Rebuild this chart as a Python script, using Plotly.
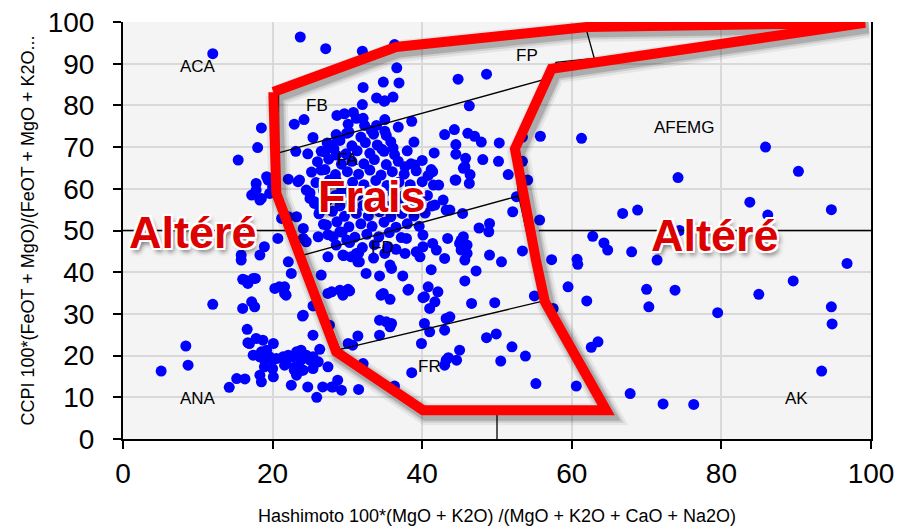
import plotly.graph_objects as go
import numpy as np

# ---------------- data (Hashimoto index, CCPI) ----------------
samples_outer = [
    (12.0,92.4),(15.4,66.9),(18.0,69.9),(18.5,74.6),
    (17.2,58.5),(17.8,61.3),(18.3,57.3),(19.2,62.9),(20.0,60.5),(19.6,58.9),(18.5,57.7),(17.8,59.7),(19.4,62.1),
    (20.7,48.1),(18.9,46.1),(18.3,44.1),(15.8,44.1),(15.8,42.9),(21.2,52.9),
    (22.1,62.3),(23.6,62.1),(23.4,61.7),(24.5,59.7),(25.0,57.7),(23.2,53.3),(22.1,53.3),(24.1,50.5),(24.5,47.3),(24.1,48.1),
    (22.1,42.5),(22.5,39.7),(26.5,39.3),(16.3,38.1),(17.4,38.5),(16.0,38.3),(16.7,37.3),(17.7,38.5),
    (20.9,36.5),(21.6,34.9),(20.3,36.1),(12.0,32.3),(17.2,32.9),(17.6,31.7),(16.0,31.3),
    (27.4,34.9),(27.9,35.3),(29.0,35.7),(30.1,35.9),
    (5.1,16.3),(8.4,22.3),(8.7,17.7),(14.2,12.4),(15.2,14.5),(16.3,14.4),
    (16.6,26.3),(16.7,23.1),(17.4,20.1),(17.8,24.1),(18.7,23.7),(18.3,19.7),(19.2,21.3),(18.9,18.9),(19.6,19.7),
    (18.3,15.3),(18.5,13.7),(18.9,17.3),(20.0,18.9),(20.1,22.9),(20.0,16.9),(20.1,14.9),(18.5,20.9),(20.5,19.3),
    (21.4,19.7),(16.9,22.9),(21.6,36.5),(21.8,34.5),
    (21.8,18.1),(22.5,12.9),(22.7,19.7),(23.0,17.3),(23.2,15.3),(23.4,20.1),(23.8,21.3),(23.8,18.9),(24.1,16.5),
    (24.1,29.7),(24.7,12.5),(25.4,24.9),(25.4,19.7),(25.4,16.9),(25.9,10.0),(26.1,18.5),(26.3,21.5),(26.7,12.5),
    (27.4,17.3),(27.9,12.5),(28.7,14.1),(29.2,11.7),(30.1,22.9),(30.7,22.5),(31.4,24.7),(31.5,11.9),(32.1,18.1),
    (29.4,34.5),(30.3,35.5),(32.5,39.7),(31.4,42.5),(24.0,29.5),(25.4,31.9),(27.6,27.3),
    (22.9,16.5),(23.9,16.5),(24.5,20.1),(25.0,18.9),(25.6,18.1),(22.1,20.1),(23.2,20.9),(21.6,17.7),(28.1,12.5),
    (34.3,39.1),(34.5,34.5),(35.7,33.5),(34.3,28.5),(35.2,28.1),(35.9,27.7),(34.3,24.9),(35.7,26.9),(35.9,40.9),
    (37.4,39.1),(38.1,35.7),(36.3,12.7),(38.6,15.9),(39.9,22.9),(40.3,27.7),(41.0,25.7),(40.3,34.1),(41.0,31.3),
    (41.7,32.9),(42.1,35.3),(40.8,36.5),(41.2,40.6),(43.2,28.9),(43.0,26.1),(43.2,18.9),
    (45.0,21.3),(43.5,19.5),(43.0,17.7),(44.6,18.9),(48.6,24.3),(49.9,25.2),(52.0,22.1),(53.8,19.9),(50.5,18.7),
    (55.2,13.3),(46.6,32.5),(49.7,32.7),
    (45.7,42.9),(50.6,42.5),(57.3,43.0),(60.8,41.9),(71.4,42.9),(96.8,42.1),
    (45.7,37.9),(47.2,40.3),(55.0,34.3),(59.5,36.5),(62.0,33.1),(70.0,35.9),(70.3,31.7),(73.8,35.7),(79.5,30.3),
    (85.0,34.7),(89.6,37.9),(94.7,31.7),(94.8,27.6),(93.4,16.3),(43.7,29.3),
    (60.6,12.7),(62.6,22.0),(63.5,23.3),(67.8,10.9),(72.2,8.4),(76.3,8.3),(57.5,31.3),
]

samples_upper = [
    (44.8,86.3),(48.6,87.5),(46.3,79.9),(44.3,74.2),(46.1,73.3),(47.0,72.6),(47.9,71.2),(50.3,71.0),(53.4,72.4),
    (55.8,72.6),(61.3,72.1),(44.5,70.6),(44.5,68.3),(45.8,67.3),(48.1,67.0),(50.2,66.6),(45.5,64.9),(46.4,63.4),
    (46.3,61.3),(44.4,62.1),(51.5,63.4),(53.4,66.6),(54.1,62.1),(74.2,62.7),(85.9,70.0),(90.3,64.2),(52.6,58.1),
    (52.1,54.5),(55.7,52.5),(83.8,56.8),(86.2,53.7),(94.7,55.0),(66.8,54.1),(68.8,54.9),(62.8,48.6),(64.3,47.0),
    (64.8,45.3),(68.0,44.9),(74.4,50.0),
    (47.6,50.6),(49.0,51.7),(48.9,49.7),(45.4,54.1),(43.7,54.9),(53.4,45.1),(49.0,44.1),(45.2,47.7),(60.7,43.1),
    (36.3,94.6),(36.6,89.0),(34.8,85.6),(36.9,85.4),(36.1,82.0),(34.9,81.0),(35.0,76.6),(36.8,74.8),(38.6,76.2),
    (35.2,72.8),(36.1,69.8),(38.9,71.2),(34.9,69.0),(43.0,73.0),(41.6,68.6),(39.0,65.7),(41.2,64.6),(45.7,65.3),
    (37.7,65.3),
    (23.7,96.4),(27.1,93.6),(32.0,93.0),(32.1,84.3),(33.9,81.8),(32.0,80.2),(22.9,75.5),(24.2,76.6),(25.4,72.3),
    (23.1,69.0),(24.7,68.4),(28.6,77.6),(29.6,78.0),(30.8,78.3),(30.1,75.5),(31.2,76.9),(32.1,76.9),(32.3,75.2),
    (33.2,74.0),(33.9,75.2),(29.9,73.3),(28.7,71.7),(27.9,70.5),(27.0,68.8),(28.5,68.1),
    (35.0,81.1),(41.4,64.1),(42.2,60.9),(42.8,57.3),(43.2,54.9),(44.5,62.1),(41.7,56.1),
    (43.4,48.1),(45.5,48.5),(45.0,46.9),(46.0,46.5),(45.2,45.3),(46.0,44.5),(35.7,41.7),(38.2,35.9),(40.1,33.9),
    (37.9,48.1),(40.1,48.9),(41.4,46.9),(39.2,44.9),(37.7,44.5),(39.7,43.7),(43.0,43.3),(41.9,45.3),(40.1,46.1),
    (35.0,44.5),(36.5,45.5),(34.8,34.9),
    (25.6,56.9),(26.3,54.5),(27.2,51.3),(28.1,48.5),(26.1,48.5),(29.0,49.7),(29.9,47.7),(31.2,44.5),(31.6,42.5),
    (30.5,43.7),(29.4,44.1),(27.4,43.7),(26.5,64.5),(28.5,62.1),(29.2,59.3),
]

samples_core = [
    (28.5,73.0),(30.2,73.6),(31.8,72.4),(33.5,73.1),(35.0,73.8),
    (27.3,71.0),(29.0,71.6),(30.6,70.3),(32.4,71.1),(34.0,70.5),(35.8,71.3),
    (26.5,69.0),(28.2,69.6),(29.8,68.4),(31.3,69.1),(33.0,68.5),(34.6,69.5),(36.3,68.2),(38.0,69.1),
    (26.0,66.5),(27.5,67.1),(29.2,65.9),(30.6,66.6),(32.2,66.0),(33.6,67.0),(35.2,65.8),(36.8,66.6),(38.5,66.0),(40.0,66.8),
    (25.2,64.0),(27.0,64.6),(28.4,63.4),(30.0,64.1),(31.5,63.5),(33.0,64.5),(34.5,63.3),(36.0,64.1),(37.6,63.5),(39.2,64.3),(40.8,63.2),
    (25.8,61.5),(27.6,62.1),(29.1,60.9),(30.7,61.6),(32.2,61.0),(33.8,62.0),(35.3,60.8),(36.9,61.6),(38.4,61.0),(40.0,61.7),(41.5,60.9),
    (25.0,59.0),(26.8,59.6),(28.4,58.4),(29.9,59.1),(31.4,58.5),(33.0,59.5),(34.6,58.3),(36.1,59.1),(37.6,58.5),(39.2,59.2),(40.7,58.4),
    (25.6,56.5),(27.3,57.1),(29.0,55.9),(30.5,56.6),(32.1,56.0),(33.7,57.0),(35.2,55.8),(36.8,56.6),(38.3,56.0),(39.8,56.7),(41.3,55.9),
    (26.2,54.0),(28.0,54.6),(29.6,53.4),(31.2,54.1),(32.8,53.5),(34.3,54.5),(35.8,53.3),(37.3,54.1),(38.9,53.5),(40.4,54.2),
    (26.8,51.5),(28.6,52.1),(30.2,50.9),(31.8,51.6),(33.3,51.0),(34.9,52.0),(36.5,50.8),(38.0,51.6),(39.6,51.0),
    (27.4,49.0),(29.3,49.6),(31.0,48.4),(32.6,49.1),(34.2,48.5),(35.6,49.5),(37.2,48.3),
    (28.5,46.5),(30.3,47.1),(32.0,45.9),(33.6,46.6),(35.4,46.0),
    (29.5,44.0),(31.5,44.6),(33.5,43.4),
]

# alteration box-plot field boundaries
box_outline = [(20.8,83.0),(20.8,56.0),(29.0,21.5),(40.0,7.0),(64.0,7.0),(56.0,33.0),(52.9,58.3),
               (52.2,70.0),(56.5,86.3),(57.9,90.3),(63.0,91.3),(62.0,97.8)]
line_fb_fa = [(20.8,68.6),(56.5,86.3)]
line_fa_fd = [(23.7,43.9),(52.9,58.3)]
line_fd_fr = [(29.0,21.5),(56.0,33.0)]
line_50_left = [(0.0,50.0),(22.2,50.0)]
line_50_right = [(55.6,50.0),(100.0,50.0)]
line_x50 = [(50.0,0.0),(50.0,7.0)]

# "least altered" outline drawn by hand
fresh_outline = [(20.1,83.2),(36.5,94.0),(62.0,98.8),(99.2,99.8),(57.3,88.8),(52.4,69.6),(55.2,43.0),
                 (56.4,32.9),(64.6,6.9),(40.1,6.9),(28.5,20.9),(20.5,58.9),(20.1,83.2)]

field_labels = ["ACA","ANA","AK","AFEMG","FB","FA","FD","FR","FP"]
field_x = [10.0,10.0,90.0,75.0,26.0,30.0,34.7,41.0,54.0]
field_y = [89.4,9.6,9.8,74.8,80.0,67.0,46.0,17.5,92.0]

big_labels = ["Altéré","Frais","Altéré"]
big_x = [9.3,33.3,79.2]
big_y = [49.6,58.2,48.9]

x_ticks = [0,20,40,60,80,100]
y_ticks = [0,10,20,30,40,50,60,70,80,90,100]

# ---------------- figure ----------------
FONT = "Liberation Sans, Arial, Helvetica, sans-serif"
fig = go.Figure()

pts = samples_outer + samples_upper + samples_core
fig.add_trace(go.Scatter(x=[p[0] for p in pts], y=[p[1] for p in pts], mode="markers",
                         marker=dict(size=11, color="#0000ff", line=dict(width=0)),
                         hoverinfo="x+y"))

for seg in [box_outline, line_fb_fa, line_fa_fd, line_fd_fr, line_50_left, line_50_right, line_x50]:
    fig.add_trace(go.Scatter(x=[p[0] for p in seg], y=[p[1] for p in seg], mode="lines",
                             line=dict(color="black", width=1.3), hoverinfo="skip"))

fx = np.array([p[0] for p in fresh_outline])
fy = np.array([p[1] for p in fresh_outline])
# soft drop shadow below the red outline
for w, a in [(22, 0.06), (17, 0.10), (13, 0.16)]:
    fig.add_trace(go.Scatter(x=fx + 0.45, y=fy - 0.95, mode="lines", cliponaxis=False,
                             line=dict(color=f"rgba(0,0,0,{a})", width=w), hoverinfo="skip"))
fig.add_trace(go.Scatter(x=fx, y=fy, mode="lines", cliponaxis=False,
                         line=dict(color="#ff0000", width=10), hoverinfo="skip"))

for t, x, y in zip(field_labels, field_x, field_y):
    fig.add_annotation(x=x, y=y, text=t, showarrow=False,
                       font=dict(family=FONT, size=17, color="black"))

outline = ", ".join(f"{dx}px {dy}px 0 #ffffff" for dx, dy in
                    [(2,0),(-2,0),(0,2),(0,-2),(2,2),(-2,-2),(2,-2),(-2,2)])
shadow = outline + ", 3px 4px 5px rgba(0,0,0,0.55)"
for t, x, y in zip(big_labels, big_x, big_y):
    fig.add_annotation(x=x, y=y, text=t, showarrow=False,
                       font=dict(family=FONT, size=45, color="#dc0000", weight="bold", shadow=shadow))

# page body adds an 8px offset, so the figure is sized to fit the remaining window
fig.update_layout(
    width=904, height=518,
    margin=dict(l=115, r=41, t=14, b=87, autoexpand=False),
    plot_bgcolor="#f4f4f4", paper_bgcolor="white",
    showlegend=False,
    font=dict(family=FONT, color="black"),
)
fig.update_xaxes(range=[0, 100], tickvals=x_ticks, showline=True, linecolor="black", linewidth=2,
                 ticks="outside", ticklen=8, tickwidth=2, tickcolor="black", automargin=False,
                 tickfont=dict(family=FONT, size=28), ticklabelstandoff=0, ticklabeloverflow="allow",
                 gridcolor="#d9d9d9", gridwidth=2, zeroline=False,
                 title=dict(text="Hashimoto 100*(MgO + K2O) /(MgO + K2O + CaO + Na2O)",
                            font=dict(family=FONT, size=18), standoff=22))
fig.update_yaxes(range=[0, 100], tickvals=y_ticks, showline=True, linecolor="black", linewidth=2,
                 mirror=True, ticks="outside", ticklen=8, tickwidth=2, tickcolor="black", automargin=False,
                 tickfont=dict(family=FONT, size=28), ticklabelstandoff=13, ticklabeloverflow="allow",
                 gridcolor="#d9d9d9", gridwidth=2, zeroline=False,
                 title=dict(text="CCPI 100*(FeOT + MgO)/(FeOT + MgO + K2O...",
                            font=dict(family=FONT, size=18), standoff=8))

fig.write_html("out.html")
